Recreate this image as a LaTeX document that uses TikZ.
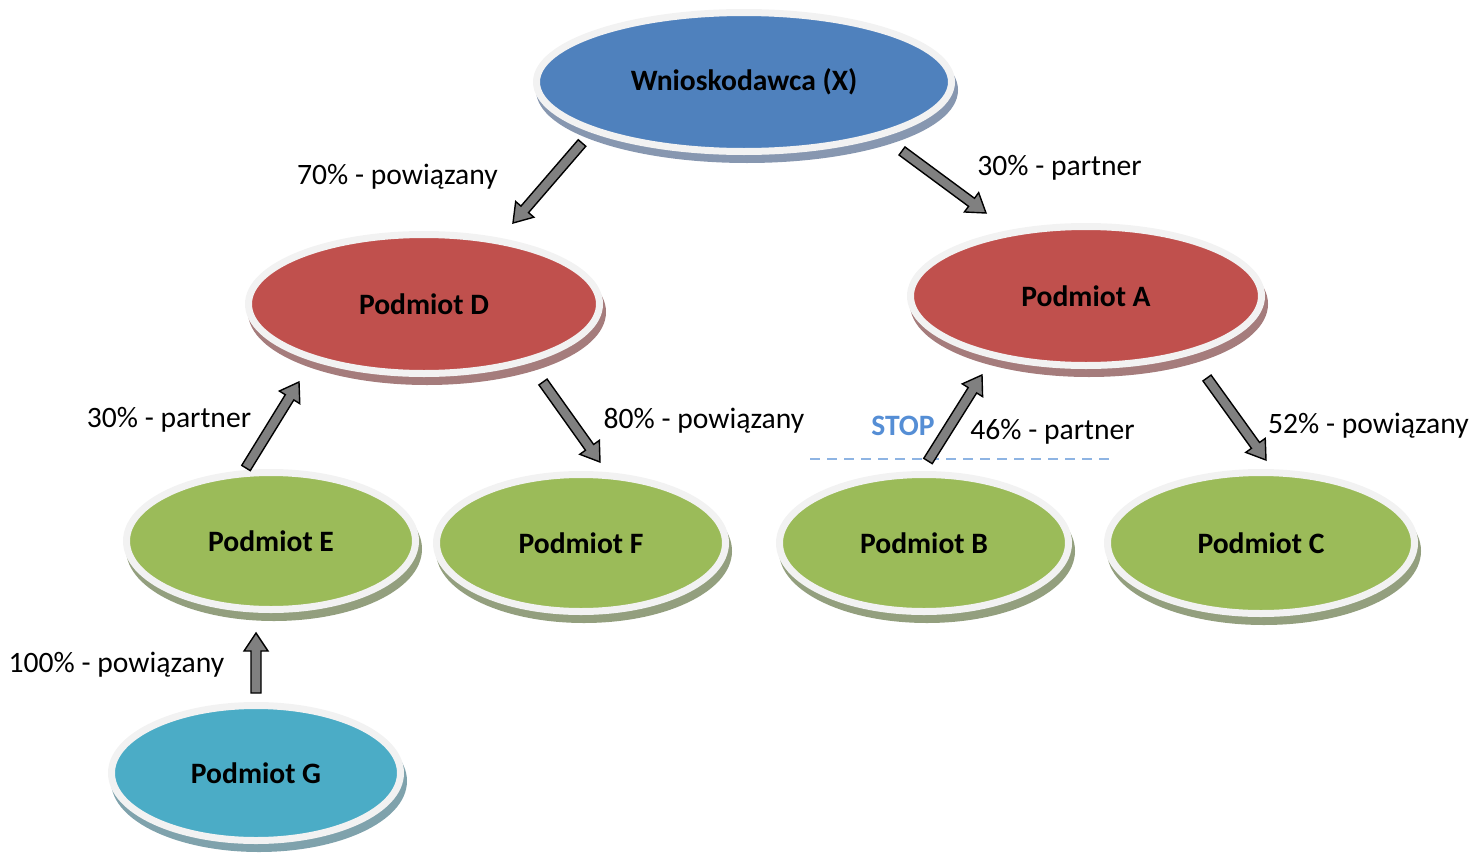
\documentclass[tikz,border=0pt]{standalone}
\usepackage{fontspec}
\setmainfont{Carlito}
\usetikzlibrary{shapes.geometric,calc}
\definecolor{cblue}{HTML}{4F81BD}
\definecolor{cred}{HTML}{C0504D}
\definecolor{cgreen}{HTML}{9BBB59}
\definecolor{cteal}{HTML}{4BACC6}
\definecolor{rim}{HTML}{F2F2F2}
\definecolor{shblue}{HTML}{8797B0}
\definecolor{shred}{HTML}{A57C7C}
\definecolor{shgreen}{HTML}{939F7E}
\definecolor{shteal}{HTML}{7FA2AC}
\definecolor{stopblue}{HTML}{558ED5}
\definecolor{dashblue}{HTML}{8EB4E3}
\definecolor{arrowgray}{HTML}{808080}
\newcommand\blockarrow[2]{%
  \coordinate (hb) at ($(#2)!18pt!(#1)$);
  \draw[barrow] ($(#1)!5pt!90:(#2)$) -- ($(hb)!5pt!-90:(#1)$) -- ($(hb)!12pt!-90:(#1)$) -- (#2)
    -- ($(hb)!12pt!90:(#1)$) -- ($(hb)!5pt!90:(#1)$) -- ($(#1)!5pt!-90:(#2)$) -- cycle;}
\tikzset{
  ent/.style={ellipse, inner sep=0pt, draw=rim, line width=7pt, text=black,
    font=\fontsize{29.6}{34}\selectfont\bfseries,
    preaction={draw=#1, fill=#1, line width=7pt, transform canvas={shift={(3pt,-8pt)}}}},
  lbl/.style={inner sep=0pt, anchor=base, font=\fontsize{29.6}{34}\selectfont, text=black},
  barrow/.style={fill=arrowgray, draw=black, line width=1.4pt, line join=miter},
  stopline/.style={draw=dashblue, line width=2pt, dash pattern=on 10pt off 7pt},
}
\begin{document}
\begin{tikzpicture}[x=1pt,y=-1pt]
\useasboundingbox (0,0) rectangle (1470,854);
% entities
\node[ent=shblue, fill=cblue, minimum width=415pt, minimum height=139pt] (X) at (744,82) {Wnioskodawca (X)};
\node[ent=shred, fill=cred, minimum width=351pt, minimum height=139pt] (D) at (424,304) {Podmiot D};
\node[ent=shred, fill=cred, minimum width=351pt, minimum height=139pt] (A) at (1086,296) {Podmiot A};
\node[ent=shgreen, fill=cgreen, minimum width=289pt, minimum height=137pt] (E) at (271,541) {Podmiot E};
\node[ent=shgreen, fill=cgreen, minimum width=289pt, minimum height=137pt] (F) at (581,543) {Podmiot F};
\node[ent=shgreen, fill=cgreen, minimum width=289pt, minimum height=137pt] (B) at (924,543) {Podmiot B};
\node[ent=shgreen, fill=cgreen, minimum width=307pt, minimum height=141pt] (C) at (1261,543) {Podmiot C};
\node[ent=shteal, fill=cteal, minimum width=289pt, minimum height=135pt] (G) at (256,773) {Podmiot G};
% labels
\node[lbl] (l1) at (397.5,184) {70\% - powiązany};
\node[lbl] (l2) at (1059.5,175) {30\% - partner};
\node[lbl] (l3) at (169,427) {30\% - partner};
\node[lbl] (l4) at (704,428) {80\% - powiązany};
\node[lbl, font=\fontsize{29.6}{34}\selectfont\bfseries, text=stopblue] (stop) at (903,435) {STOP};
\node[lbl] (l6) at (1052.5,439) {46\% - partner};
\node[lbl] (l7) at (1368.5,433) {52\% - powiązany};
\node[lbl] (l8) at (116.5,672) {100\% - powiązany};
% stop line
\coordinate (s1) at (810,459);
\coordinate (s2) at (1110,459);
\draw[stopline] (s1) -- (s2);
% arrow end points
\coordinate (xd1) at (582,143); \coordinate (xd2) at (513,223);
\coordinate (xa1) at (902,151); \coordinate (xa2) at (986,213);
\coordinate (ed1) at (246,468); \coordinate (ed2) at (299,382);
\coordinate (df1) at (543,382); \coordinate (df2) at (600,462);
\coordinate (ba1) at (928,461); \coordinate (ba2) at (982,375);
\coordinate (ac1) at (1207,378); \coordinate (ac2) at (1266,460);
\coordinate (ge1) at (256,693); \coordinate (ge2) at (256,633);
\blockarrow{xd1}{xd2}
\blockarrow{xa1}{xa2}
\blockarrow{ed1}{ed2}
\blockarrow{df1}{df2}
\blockarrow{ba1}{ba2}
\blockarrow{ac1}{ac2}
\blockarrow{ge1}{ge2}
\end{tikzpicture}
\end{document}
